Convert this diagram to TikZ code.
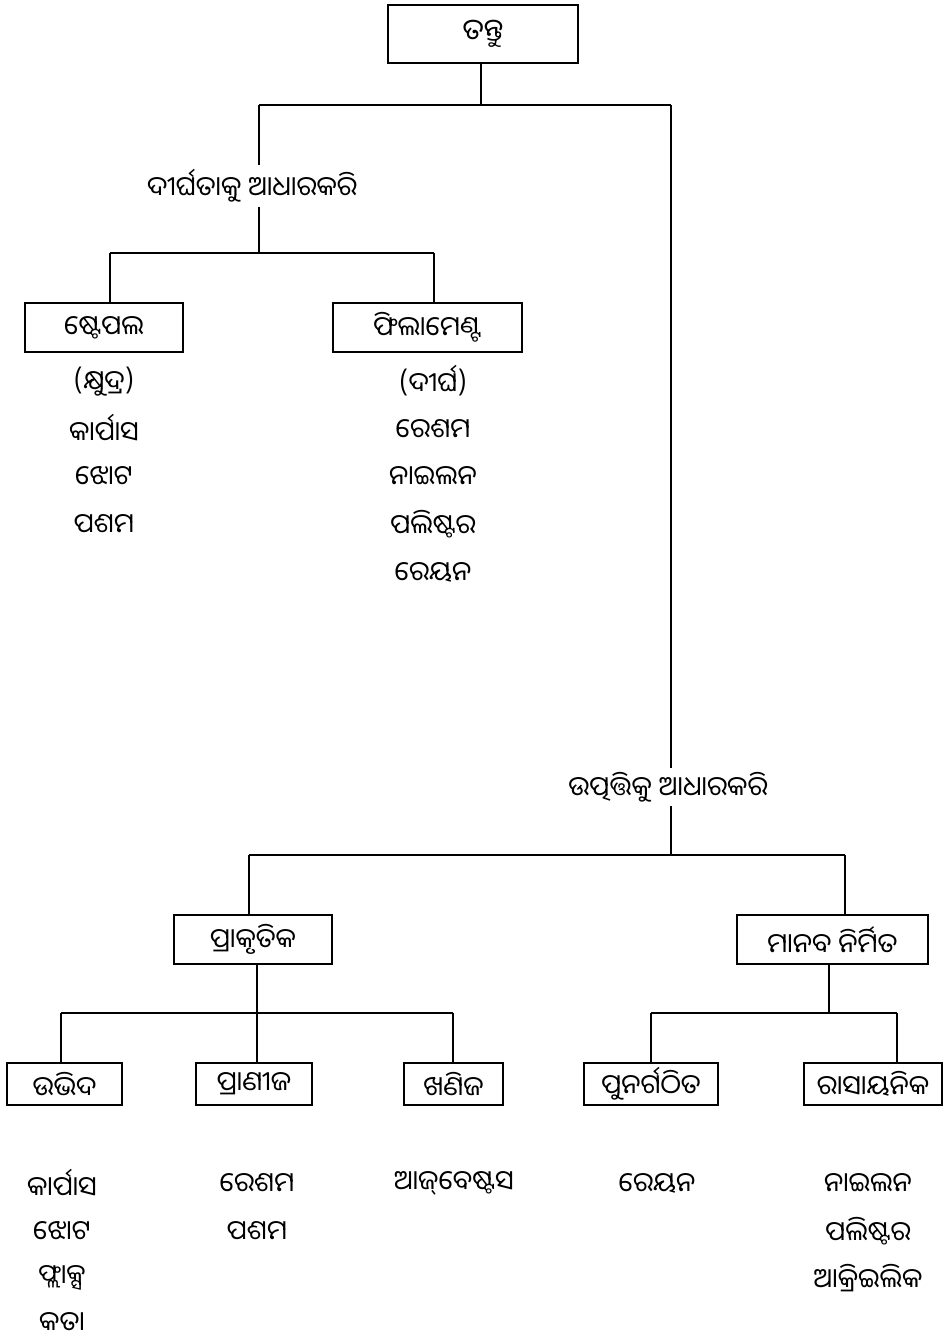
\documentclass[tikz,border=0pt]{standalone}
\usepackage{fontspec}
\IfFontExistsTF{Noto Sans Oriya}
  {\newfontfamily\odia[Script=Oriya]{Noto Sans Oriya}}
  {\newfontfamily\odia[Script=Oriya]{Noto Sans Oriya UI}}
\begin{document}
\begin{tikzpicture}[x=1pt,y=-1pt,
  every node/.style={font=\odia\fontsize{27}{31}\selectfont, inner sep=0pt},
  box/.style={draw, line width=1.6pt, minimum height=49pt},
  sbox/.style={draw, line width=1.6pt, minimum height=42pt},
  conn/.style={line width=1.8pt},
  lbl/.style={inner sep=4pt}]
\useasboundingbox (0,0) rectangle (943,1339);
% top
\node[box, minimum width=190pt, minimum height=58pt, font=\odia\fontsize{29}{33}\selectfont] (root) at (483,34) {ତନ୍ତୁ};
\coordinate (j0) at (481,105);
\coordinate (jl) at (259,105);
\coordinate (jr) at (671,105);
\draw[conn] (root.south -| j0) -- (j0);
\draw[conn] (jl) -- (jr);
% length branch
\node[lbl] (len) at (252,186) {ଦୀର୍ଘତାକୁ ଆଧାରକରି};
\coordinate (j1) at (259,253);
\coordinate (j1a) at (110,253);
\coordinate (j1b) at (434,253);
\draw[conn] (jl) -- (len.north -| jl);
\draw[conn] (len.south -| j1) -- (j1);
\draw[conn] (j1a) -- (j1b);
\node[box, minimum width=158pt] (staple) at (104,327.5) {ଷ୍ଟେପଲ};
\node[box, minimum width=189pt] (fil) at (427.5,327.5) {ଫିଲାମେଣ୍ଟ};
\draw[conn] (j1a) -- (staple.north -| j1a);
\draw[conn] (j1b) -- (fil.north -| j1b);
\node (s1) at (104,382) {(କ୍ଷୁଦ୍ର)};
\node (s2) at (104,428) {କାର୍ପାସ};
\node (s3) at (104,476) {ଝୋଟ};
\node (s4) at (104,524) {ପଶମ};
\node (f1) at (433,381) {(ଦୀର୍ଘ)};
\node (f2) at (433,429) {ରେଶମ};
\node (f3) at (433,476) {ନାଇଲନ};
\node (f4) at (433,524) {ପଲିଷ୍ଟର};
\node (f5) at (433,572) {ରେୟନ};
% origin branch
\node[lbl] (ori) at (668,787) {ଉତ୍ପତ୍ତିକୁ ଆଧାରକରି};
\coordinate (j2) at (671,855);
\coordinate (j2a) at (249,855);
\coordinate (j2b) at (845,855);
\draw[conn] (jr) -- (ori.north -| jr);
\draw[conn] (ori.south -| j2) -- (j2);
\draw[conn] (j2a) -- (j2b);
\node[box, minimum width=158pt] (nat) at (253,939.5) {ପ୍ରାକୃତିକ};
\node[box, minimum width=191pt] (man) at (832.5,939.5) {ମାନବ ନିର୍ମିତ};
\draw[conn] (j2a) -- (nat.north -| j2a);
\draw[conn] (j2b) -- (man.north -| j2b);
% natural sub
\coordinate (j3) at (257,1013);
\coordinate (j3a) at (61,1013);
\coordinate (j3b) at (257,1013);
\coordinate (j3c) at (453,1013);
\draw[conn] (nat.south -| j3) -- (j3);
\draw[conn] (j3a) -- (j3c);
\node[sbox, minimum width=115pt] (plant) at (64.5,1084) {ଉଭିଦ};
\node[sbox, minimum width=116pt] (anim) at (254,1084) {ପ୍ରାଣୀଜ};
\node[sbox, minimum width=99pt] (min) at (453.5,1084) {ଖଣିଜ};
\draw[conn] (j3a) -- (plant.north -| j3a);
\draw[conn] (j3b) -- (anim.north -| j3b);
\draw[conn] (j3c) -- (min.north -| j3c);
% man-made sub
\coordinate (j4) at (829,1013);
\coordinate (j4a) at (651,1013);
\coordinate (j4b) at (897,1013);
\draw[conn] (man.south -| j4) -- (j4);
\draw[conn] (j4a) -- (j4b);
\node[sbox, minimum width=134pt] (regen) at (651,1084) {ପୁନର୍ଗଠିତ};
\node[sbox, minimum width=138pt] (chem) at (873,1084) {ରାସାୟନିକ};
\draw[conn] (j4a) -- (regen.north -| j4a);
\draw[conn] (j4b) -- (chem.north -| j4b);
% leaves
\node (p1) at (62,1183) {କାର୍ପାସ};
\node (p2) at (62,1231) {ଝୋଟ};
\node (p3) at (62,1278) {ଫ୍ଲାକ୍ସ};
\node (p4) at (62,1322) {କତା};
\node (a1) at (257,1183) {ରେଶମ};
\node (a2) at (257,1231) {ପଶମ};
\node (m1) at (454,1183) {ଆଜ୍‌ବେଷ୍ଟସ};
\node (r1) at (657,1183) {ରେୟନ};
\node (c1) at (868,1183) {ନାଇଲନ};
\node (c2) at (868,1231) {ପଲିଷ୍ଟର};
\node (c3) at (868,1278) {ଆକ୍ରିଇଲିକ};
\end{tikzpicture}
\end{document}
